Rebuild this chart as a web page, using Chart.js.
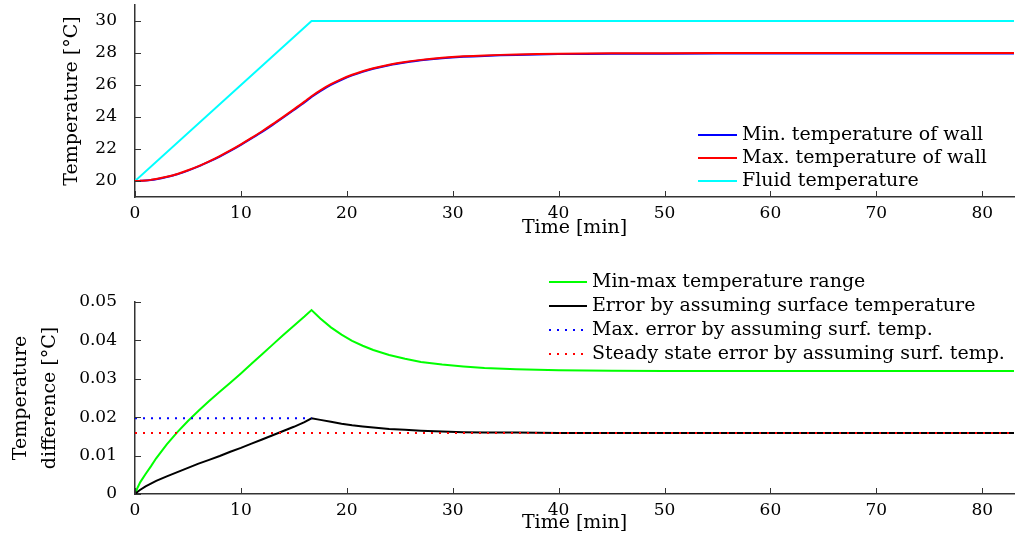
<!DOCTYPE html>
<html>
<head>
<meta charset="utf-8">
<script src="https://cdn.jsdelivr.net/npm/chart.js@4.4.1/dist/chart.umd.min.js"></script>
<style>
  body { margin: 0; background: #fff; }
  #wrap { position: relative; width: 1019px; height: 539px; }
  canvas { position: absolute; left: 0; }
  #tempChart { top: 0; }
  #diffChart { top: 250px; }
</style>
</head>
<body>
<div id="wrap">
  <canvas id="tempChart" width="1019" height="250"></canvas>
  <canvas id="diffChart" width="1019" height="289"></canvas>
</div>
<script>
// time samples [min] shared by the wall and error curves
const minutes = [0, 0.25, 0.5, 1, 1.5, 2, 3, 4, 5, 6, 7, 8, 9, 10, 11, 12, 13, 14, 15, 16, 16.67,
  17.5, 18.5, 19.5, 20.5, 21.5, 22.5, 24, 25.5, 27, 29, 31, 33, 36, 40, 45, 50, 60, 83];

const wallMin = [20.00, 20.00, 20.01, 20.03, 20.06, 20.11, 20.25, 20.42, 20.65, 20.91, 21.21,
  21.53, 21.88, 22.26, 22.66, 23.07, 23.51, 23.97, 24.44, 24.91, 25.25, 25.62, 26.01, 26.33,
  26.60, 26.82, 27.01, 27.23, 27.40, 27.54, 27.67, 27.76, 27.82, 27.88, 27.93, 27.95, 27.96,
  27.97, 27.97];

const wallMax = [20.00, 20.00, 20.01, 20.03, 20.07, 20.12, 20.26, 20.44, 20.67, 20.93, 21.23,
  21.56, 21.91, 22.29, 22.69, 23.11, 23.55, 24.01, 24.48, 24.96, 25.30, 25.67, 26.05, 26.37,
  26.64, 26.86, 27.05, 27.27, 27.44, 27.57, 27.70, 27.79, 27.85, 27.91, 27.96, 27.98, 27.99,
  28.00, 28.00];

const fluidTimes = [0, 16.67, 83];
const fluidTemp = [20, 30, 30];

const minMaxRange = [0, 0.0017, 0.0031, 0.0052, 0.0072, 0.0093, 0.0129, 0.0161, 0.0190, 0.0217,
  0.0242, 0.0266, 0.0290, 0.0314, 0.0339, 0.0364, 0.0389, 0.0414, 0.0438, 0.0462, 0.0479, 0.0457,
  0.0434, 0.0415, 0.0399, 0.0386, 0.0375, 0.0362, 0.0352, 0.0344, 0.0337, 0.0332, 0.0328, 0.0325,
  0.0322, 0.0321, 0.0320, 0.0320, 0.0320];

const surfaceError = [0, 0.0006, 0.0011, 0.0020, 0.0027, 0.0034, 0.0046, 0.0057, 0.0068, 0.0079,
  0.0089, 0.0099, 0.0110, 0.0120, 0.0131, 0.0142, 0.0153, 0.0164, 0.0175, 0.0187, 0.0197, 0.0193,
  0.0188, 0.0183, 0.0179, 0.0176, 0.0173, 0.0169, 0.0167, 0.0165, 0.0163, 0.0161, 0.0160, 0.0160,
  0.0159, 0.0159, 0.0159, 0.0159, 0.0159];

const maxErrorTimes = [0, 16.67];
const maxErrorLevel = [0.0197, 0.0197];
const steadyTimes = [0, 83];
const steadyLevel = [0.0159, 0.0159];

const timeTicks = [0, 10, 20, 30, 40, 50, 60, 70, 80];
const tempTicks = [20, 22, 24, 26, 28, 30];
const diffTicks = [0, 0.01, 0.02, 0.03, 0.04, 0.05];

const tickFont = { family: "'DejaVu Serif', serif", size: 17 };
const textFont = { family: "'DejaVu Serif', serif", size: 19 };
const axisColor = '#333';

const pts = (xs, ys) => xs.map((x, i) => ({ x, y: ys[i] }));

// small tick marks pointing into the plot, like the classic box-off axes
const innerTicks = {
  id: 'innerTicks',
  afterDatasetsDraw(chart) {
    const { ctx, chartArea, scales } = chart;
    ctx.save();
    ctx.strokeStyle = axisColor;
    ctx.lineWidth = 1;
    ctx.beginPath();
    scales.x.ticks.forEach(t => {
      const px = Math.round(scales.x.getPixelForValue(t.value)) + 0.5;
      ctx.moveTo(px, chartArea.bottom);
      ctx.lineTo(px, chartArea.bottom - 6);
    });
    scales.y.ticks.forEach(t => {
      const py = Math.round(scales.y.getPixelForValue(t.value)) + 0.5;
      ctx.moveTo(chartArea.left, py);
      ctx.lineTo(chartArea.left + 6, py);
    });
    ctx.stroke();
    ctx.restore();
  }
};

// legend drawn as line sample + label at a fixed spot
const curveLegend = {
  id: 'curveLegend',
  afterDraw(chart, args, opts) {
    const ctx = chart.ctx;
    ctx.save();
    ctx.font = `${textFont.size}px ${textFont.family}`;
    ctx.textBaseline = 'middle';
    ctx.textAlign = 'left';
    chart.data.datasets.forEach((ds, i) => {
      const y = opts.y + i * opts.rowHeight;
      ctx.strokeStyle = ds.borderColor;
      ctx.lineWidth = ds.borderWidth;
      ctx.setLineDash(ds.borderDash || []);
      ctx.beginPath();
      ctx.moveTo(opts.x, y);
      ctx.lineTo(opts.x + opts.lineLength, y);
      ctx.stroke();
      ctx.setLineDash([]);
      ctx.fillStyle = '#000';
      ctx.fillText(ds.label, opts.x + opts.lineLength + opts.gap, y);
    });
    ctx.restore();
  }
};

function line(label, data, color, extra) {
  return Object.assign({
    label, data,
    borderColor: color,
    borderWidth: 2,
    pointRadius: 0,
    fill: false,
    tension: 0
  }, extra || {});
}

function xScale(height, titlePad) {
  return {
    type: 'linear', min: 0, max: 83,
    afterBuildTicks: s => { s.ticks = timeTicks.map(v => ({ value: v })); },
    afterFit: s => { s.height = height; },
    grid: { display: false, drawTicks: false },
    border: { display: true, color: axisColor, width: 1.5 },
    ticks: { font: tickFont, color: '#000', padding: 6, maxRotation: 0 },
    title: { display: true, text: 'Time [min]', font: textFont, color: '#000', padding: { top: 0, bottom: titlePad } }
  };
}

function yScale(min, max, tickValues, title, titlePad, lineHeight, fmt) {
  return {
    type: 'linear', min, max,
    afterBuildTicks: s => { s.ticks = tickValues.map(v => ({ value: v })); },
    // fixed axis width, and no extra room reserved above/below for labels
    afterFit: s => { s.width = 135; s.paddingTop = 0; s.paddingBottom = 0; },
    grid: { display: false, drawTicks: false },
    border: { display: true, color: axisColor, width: 1.5 },
    ticks: { font: tickFont, color: '#000', padding: 18, callback: fmt },
    title: {
      display: true, text: title, color: '#000',
      font: Object.assign({}, textFont, { lineHeight }),
      padding: { top: titlePad, bottom: 0 }
    }
  };
}

Chart.defaults.animation = false;

new Chart(document.getElementById('tempChart'), {
  type: 'line',
  data: {
    datasets: [
      line('Min. temperature of wall', pts(minutes, wallMin), '#0000ff', { order: 2, tension: 0.3 }),
      line('Max. temperature of wall', pts(minutes, wallMax), '#ff0000', { order: 1, tension: 0.3 }),
      line('Fluid temperature', pts(fluidTimes, fluidTemp), '#00ffff', { order: 3 })
    ]
  },
  options: {
    responsive: false,
    layout: { padding: { top: 5, right: 5, bottom: 0, left: 0 } },
    plugins: {
      legend: { display: false },
      tooltip: { enabled: false },
      curveLegend: { x: 698, y: 135, rowHeight: 23, lineLength: 39, gap: 5 }
    },
    scales: {
      x: xScale(53, 10.5),
      y: yScale(19, 31, tempTicks, 'Temperature [°C]', 60.5, 1.2, v => String(v))
    }
  },
  plugins: [innerTicks, curveLegend]
});

new Chart(document.getElementById('diffChart'), {
  type: 'line',
  data: {
    datasets: [
      line('Min-max temperature range', pts(minutes, minMaxRange), '#00ff00', { order: 4 }),
      line('Error by assuming surface temperature', pts(minutes, surfaceError), '#000000', { order: 3 }),
      line('Max. error by assuming surf. temp.', pts(maxErrorTimes, maxErrorLevel), '#0000ff', { order: 2, borderDash: [2, 6] }),
      line('Steady state error by assuming surf. temp.', pts(steadyTimes, steadyLevel), '#ff0000', { order: 1, borderDash: [2, 6] })
    ]
  },
  options: {
    responsive: false,
    layout: { padding: { top: 52, right: 5, bottom: 0, left: 0 } },
    plugins: {
      legend: { display: false },
      tooltip: { enabled: false },
      curveLegend: { x: 549, y: 32, rowHeight: 24, lineLength: 38, gap: 5 }
    },
    scales: {
      x: xScale(45, 4.5),
      y: yScale(0, 0.05, diffTicks, ['Temperature', 'difference [°C]'], 7, 1.5,
        v => (v === 0 ? '0' : v.toFixed(2)))
    }
  },
  plugins: [innerTicks, curveLegend]
});
</script>
</body>
</html>
